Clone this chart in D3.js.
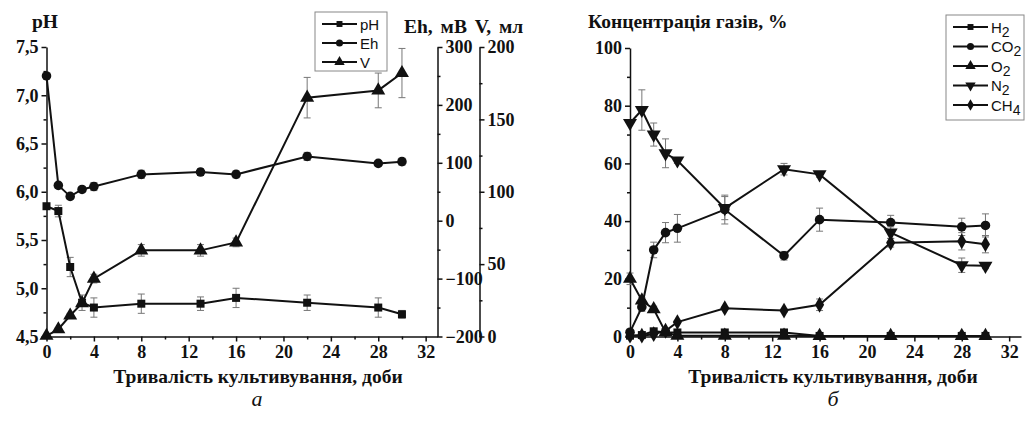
<!DOCTYPE html>
<html>
<head>
<meta charset="utf-8">
<script src="https://cdn.jsdelivr.net/npm/d3@7"></script>
<style>
  body { margin: 0; background: #fff; }
  svg text { fill: #111; }
  .tick text, .ttl { font-family: "Liberation Serif", "Times New Roman", Times, "DejaVu Serif", serif; font-weight: bold; font-size: 18px; }
  .ttl { font-size: 19.5px; }
  .axis path, .axis line { stroke: #111; stroke-width: 1.5; }
  .leg text { font-family: "Liberation Sans", Arial, sans-serif; font-size: 15px; }
  .letter { font-family: "Liberation Serif", "Times New Roman", serif; font-style: italic; font-size: 22px; }
</style>
</head>
<body>
<svg id="chart" width="1027" height="428"></svg>
<script>
// days of sampling
const days = [0, 1, 2, 3, 4, 8, 13, 16, 22, 28, 30];

// panel a
const pH    = [5.85, 5.8, 5.22, 4.85, 4.8, 4.84, 4.84, 4.9, 4.85, 4.8, 4.73];
const pHErr = [0, 0.06, 0.1, 0.08, 0.1, 0.1, 0.07, 0.1, 0.08, 0.1, 0.04];
const Eh    = [250, 61, 42, 54, 59, 80, 84, 80, 111, 99, 102];
const EhErr = [0, 5, 4, 4, 7, 7, 6, 6, 7, 4, 6];
const V     = [0.5, 5, 14.5, 23, 40, 59.5, 59.5, 65, 165, 170, 182];
const VErr  = [0, 1, 1.5, 2, 3, 4, 4, 3, 14, 12, 17];

// panel б (%)
const H2     = [0.3, 0.5, 1.8, 1.5, 1.4, 1.4, 1.4, 0.2, 0.2, 0.2, 0.2];
const H2Err  = [0, 0, 0, 0, 0, 0, 0, 0, 0, 0, 0];
const CO2    = [1.5, 10.2, 30, 36, 37.5, 44, 28, 40.5, 39.5, 38, 38.5];
const CO2Err = [0, 1.5, 2.7, 3.5, 4.8, 5, 1.5, 4, 2.5, 3, 4];
const O2     = [20, 12.5, 9.5, 1.5, 0.3, 0.3, 0.3, 0.2, 0.2, 0.2, 0.2];
const O2Err  = [2, 1, 1, 0, 0, 0, 0, 0, 0, 0, 0];
const N2     = [74, 78.5, 70, 63.5, 61, 44.5, 58, 56.2, 36, 24.7, 24.5];
const N2Err  = [0, 7, 4, 5, 1, 4, 2, 1, 2, 2.5, 1];
const CH4    = [0.3, 0.3, 0.8, 2, 5, 9.8, 9, 11, 32.5, 33, 32];
const CH4Err = [0, 0, 0, 0, 0.5, 0.5, 0.5, 2, 1.5, 3, 3];

const xLabel = 'Тривалість культивування, доби';

const svg = d3.select('#chart');

const sym = {
  square:  { type: d3.symbolSquare,   size: 64, rot: 0 },
  circle:  { type: d3.symbolCircle,   size: 72, rot: 0 },
  tri:     { type: d3.symbolTriangle, size: 85, rot: 0 },
  triDown: { type: d3.symbolTriangle, size: 85, rot: 180 },
  diamond: { type: d3.symbolDiamond,  size: 72, rot: 0 }
};

function drawAxis(axis, x, y, minor) {
  const g = svg.append('g').attr('class', 'axis')
    .attr('transform', `translate(${x},${y})`).call(axis);
  g.attr('font-family', null).attr('font-size', null);
  if (minor) {
    svg.append('g').attr('class', 'axis')
      .attr('transform', `translate(${x},${y})`).call(minor)
      .call(s => s.select('.domain').remove())
      .call(s => s.selectAll('text').remove());
  }
  return g;
}

function drawSeries(xs, ys, vals, errs, shape) {
  const g = svg.append('g');
  const pts = days.map((d, i) => ({ d, v: vals[i], e: errs[i] }));
  // error bars
  const eb = g.selectAll('.eb').data(pts.filter(p => p.e > 0)).join('g').attr('stroke', '#777').attr('stroke-width', 1);
  eb.append('line').attr('x1', p => xs(p.d)).attr('x2', p => xs(p.d))
    .attr('y1', p => ys(p.v - p.e)).attr('y2', p => ys(p.v + p.e));
  eb.append('line').attr('x1', p => xs(p.d) - 3.5).attr('x2', p => xs(p.d) + 3.5)
    .attr('y1', p => ys(p.v - p.e)).attr('y2', p => ys(p.v - p.e));
  eb.append('line').attr('x1', p => xs(p.d) - 3.5).attr('x2', p => xs(p.d) + 3.5)
    .attr('y1', p => ys(p.v + p.e)).attr('y2', p => ys(p.v + p.e));
  // line
  g.append('path').datum(pts)
    .attr('fill', 'none').attr('stroke', '#111').attr('stroke-width', 2)
    .attr('d', d3.line().x(p => xs(p.d)).y(p => ys(p.v)));
  // markers
  g.selectAll('.mk').data(pts).join('path')
    .attr('fill', '#111')
    .attr('transform', p => `translate(${xs(p.d)},${ys(p.v)}) rotate(${shape.rot})`)
    .attr('d', d3.symbol().type(shape.type).size(shape.size));
}

function drawLegend(x, y, w, h, items, rowH) {
  const g = svg.append('g').attr('class', 'leg');
  g.append('rect').attr('x', x).attr('y', y).attr('width', w).attr('height', h)
    .attr('fill', '#fff').attr('stroke', '#888').attr('stroke-width', 1);
  items.forEach((it, i) => {
    const cy = y + 12 + i * rowH;
    g.append('line').attr('x1', x + 7).attr('x2', x + 42).attr('y1', cy).attr('y2', cy)
      .attr('stroke', '#111').attr('stroke-width', 2);
    g.append('path').attr('fill', '#111')
      .attr('transform', `translate(${x + 24.5},${cy}) rotate(${it.shape.rot})`)
      .attr('d', d3.symbol().type(it.shape.type).size(it.shape.size * 0.55));
    const t = g.append('text').attr('x', x + 45).attr('y', cy + 5.5);
    t.append('tspan').text(it.name);
    if (it.sub) t.append('tspan').attr('dy', 4).attr('font-size', 14).text(it.sub);
  });
}

const fmtComma = d => d3.format('.1f')(d).replace('.', ',');

// ---------- panel a ----------
const xA = d3.scaleLinear().domain([0, 33]).range([46.5, 437.5]);
const yPH = d3.scaleLinear().domain([4.5, 7.5]).range([336.5, 47]);
const yEh = d3.scaleLinear().domain([-200, 300]).range([336.5, 47]);
const yV  = d3.scaleLinear().domain([0, 200]).range([336.5, 47]);

drawAxis(d3.axisBottom(xA).tickValues(d3.range(0, 33, 4)).tickSize(5).tickSizeOuter(0).tickPadding(4),
  0, 336.5, d3.axisBottom(xA).tickValues(d3.range(2, 33, 4)).tickSize(3));
drawAxis(d3.axisLeft(yPH).tickValues(d3.range(4.5, 7.51, 0.5)).tickFormat(fmtComma).tickSize(5).tickSizeOuter(0).tickPadding(3),
  46.5, 0, d3.axisLeft(yPH).tickValues(d3.range(4.75, 7.5, 0.5)).tickSize(3));
drawAxis(d3.axisRight(yEh).tickValues(d3.range(-200, 301, 100)).tickSize(5).tickSizeOuter(0).tickPadding(3),
  437.5, 0, d3.axisRight(yEh).tickValues(d3.range(-150, 300, 100)).tickSize(3));
drawAxis(d3.axisRight(yV).tickValues(d3.range(0, 201, 50)).tickSize(5).tickSizeOuter(0).tickPadding(3),
  479.5, 0, d3.axisRight(yV).tickValues(d3.range(25, 200, 50)).tickSize(3));

drawSeries(xA, yPH, pH, pHErr, sym.square);
drawSeries(xA, yEh, Eh, EhErr, sym.circle);
drawSeries(xA, yV, V, VErr, sym.tri);

svg.append('text').attr('class', 'ttl').attr('x', 32).attr('y', 28).text('pH');
svg.append('text').attr('class', 'ttl').attr('x', 404).attr('y', 33).attr('word-spacing', 3).text('Eh, мВ V, мл');
svg.append('text').attr('class', 'ttl').attr('x', 258).attr('y', 383).attr('text-anchor', 'middle').text(xLabel);

drawLegend(315, 12, 72, 59, [
  { name: 'pH', shape: sym.square },
  { name: 'Eh', shape: sym.circle },
  { name: 'V', shape: sym.tri }
], 19);

// ---------- panel б ----------
const xB = d3.scaleLinear().domain([0, 33]).range([630, 1021]);
const yB = d3.scaleLinear().domain([0, 100]).range([336.5, 48]);

drawAxis(d3.axisBottom(xB).tickValues(d3.range(0, 33, 4)).tickSize(5).tickSizeOuter(0).tickPadding(4),
  0, 336.5, d3.axisBottom(xB).tickValues(d3.range(2, 33, 4)).tickSize(3));
drawAxis(d3.axisLeft(yB).tickValues(d3.range(0, 101, 20)).tickSize(5).tickSizeOuter(0).tickPadding(3),
  630, 0, d3.axisLeft(yB).tickValues(d3.range(10, 100, 20)).tickSize(3));

drawSeries(xB, yB, H2, H2Err, sym.square);
drawSeries(xB, yB, CO2, CO2Err, sym.circle);
drawSeries(xB, yB, O2, O2Err, sym.tri);
drawSeries(xB, yB, N2, N2Err, sym.triDown);
drawSeries(xB, yB, CH4, CH4Err, sym.diamond);

svg.append('text').attr('class', 'ttl').attr('x', 588).attr('y', 28).text('Концентрація газів, %');
svg.append('text').attr('class', 'ttl').attr('x', 833).attr('y', 383).attr('text-anchor', 'middle').text(xLabel);

drawLegend(946, 15, 78, 105, [
  { name: 'H', sub: '2', shape: sym.square },
  { name: 'CO', sub: '2', shape: sym.circle },
  { name: 'O', sub: '2', shape: sym.tri },
  { name: 'N', sub: '2', shape: sym.triDown },
  { name: 'CH', sub: '4', shape: sym.diamond }
], 19.5);

// panel letters
svg.append('text').attr('class', 'letter').attr('x', 257).attr('y', 406).attr('text-anchor', 'middle').attr('fill', '#333').text('а');
svg.append('text').attr('class', 'letter').attr('x', 833).attr('y', 406).attr('text-anchor', 'middle').attr('fill', '#333').text('б');
</script>
</body>
</html>
